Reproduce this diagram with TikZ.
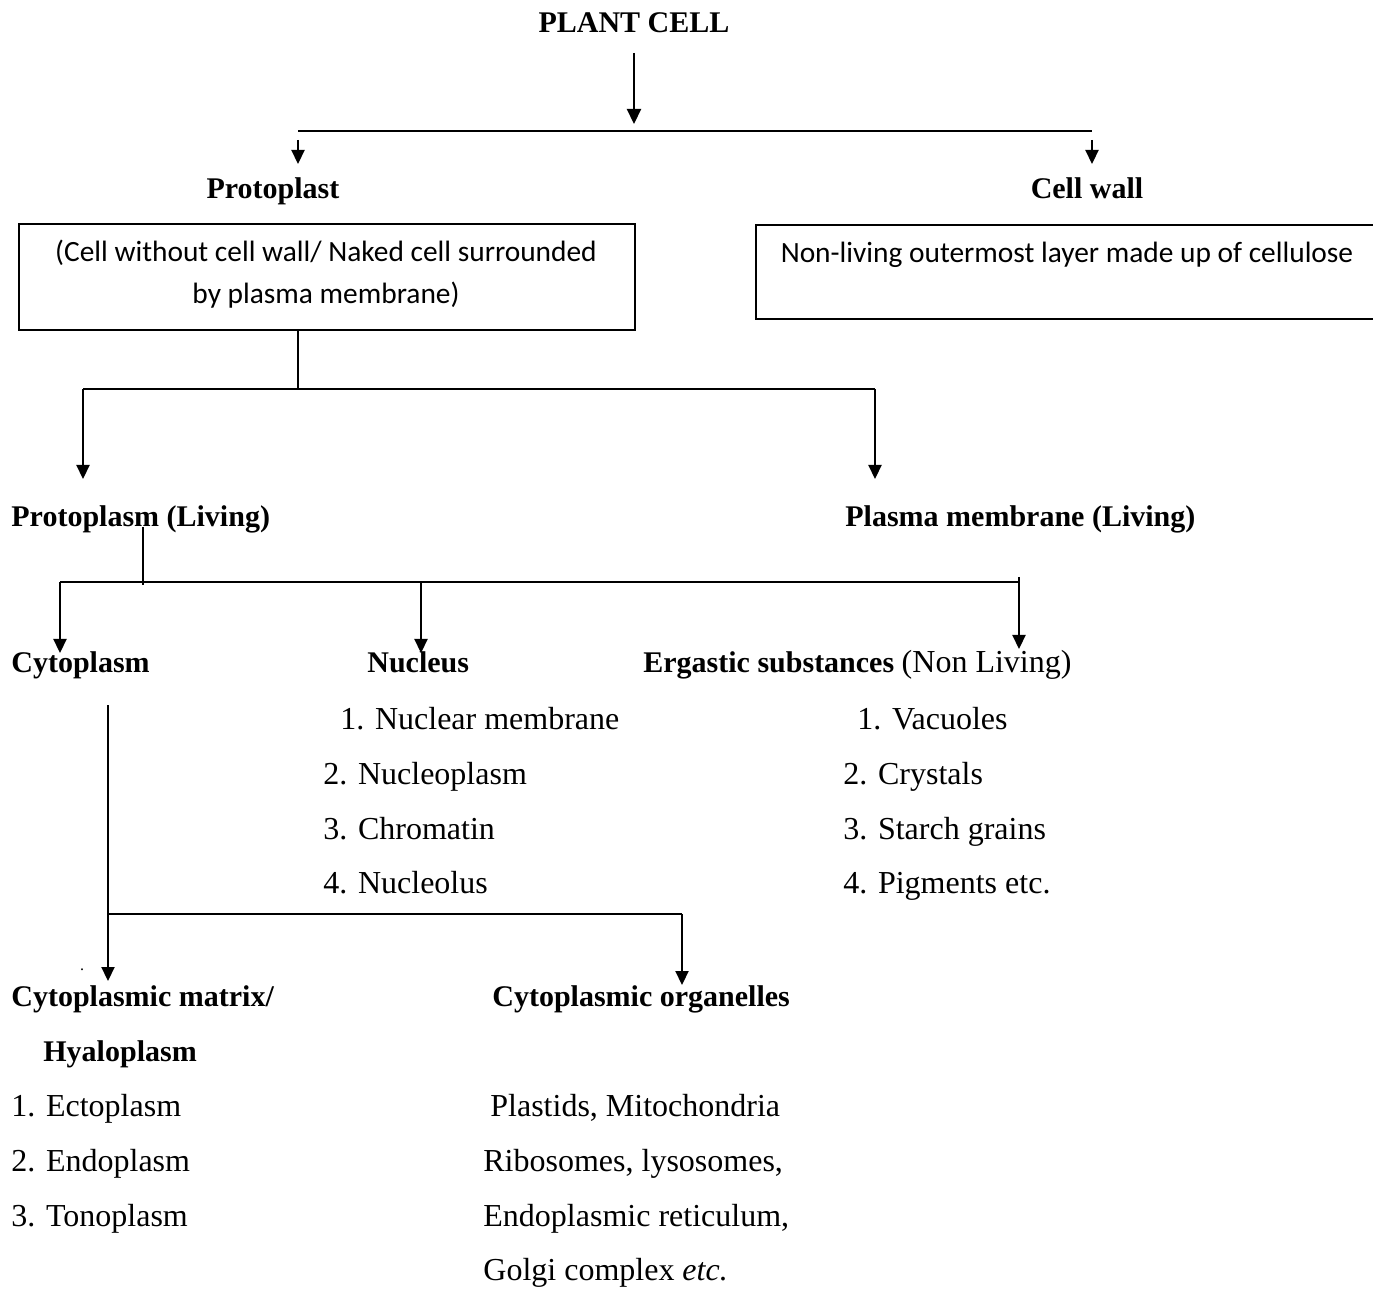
\documentclass[tikz,border=0pt]{standalone}
\usepackage{fontspec}
\setmainfont{Liberation Serif}
\newfontfamily\boxfont{Carlito}
\usetikzlibrary{arrows.meta}
\begin{document}
\begin{tikzpicture}[x=0.5pt,y=-0.5pt,
  conn/.style={line width=1.1pt},
  arr/.style={conn,-{Triangle[width=7pt,length=7.5pt]}},
  sarr/.style={conn,-{Triangle[width=6.5pt,length=7pt]}},
  hd/.style={font=\fontsize{15}{18}\selectfont\bfseries, inner sep=0pt},
  tx/.style={font=\fontsize{16}{19}\selectfont, inner sep=0pt},
  bx/.style={draw, line width=1.1pt, inner sep=0pt},
  bt/.style={font=\boxfont\fontsize{14.7}{21}\selectfont, inner sep=0pt, align=center}]
\useasboundingbox (0,0) rectangle (1373,1289);

% ---------- texts ----------
\node[hd, anchor=base] (pc) at (634,33) {PLANT CELL};
\node[hd, anchor=base] (pp) at (273,199) {Protoplast};
\node[hd, anchor=base] (cw) at (1087,199) {Cell wall};

\node[bx, minimum width=308pt, minimum height=53pt] (box1) at (327,277) {};
\node[bt, anchor=base] (b1a) at (326,262) {(Cell without cell wall/ Naked cell surrounded};
\node[bt, anchor=base] (b1b) at (326,304) {by plasma membrane)};

\node[bx, minimum width=320pt, minimum height=47pt, anchor=north west] (box2) at (755,224) {};
\node[bt, anchor=base] (b2) at (1067,263) {Non-living outermost layer made up of cellulose};

\node[hd, anchor=base west] (pl) at (11,527) {Protoplasm (Living)};
\node[hd, anchor=base west] (pm) at (845,527) {Plasma membrane (Living)};

\node[hd, anchor=base west] (cy) at (11,673) {Cytoplasm};
\node[hd, anchor=base west] (nu) at (367,673) {Nucleus};
\node[tx, anchor=base west] (er) at (643,673) {\fontsize{15}{18}\selectfont\bfseries Ergastic substances \fontsize{16}{19}\selectfont\mdseries(Non Living)};

\node[tx, anchor=base west] (n1) at (340,729) {1. Nuclear membrane};
\node[tx, anchor=base west] (n2) at (323,784) {2. Nucleoplasm};
\node[tx, anchor=base west] (n3) at (323,839) {3. Chromatin};
\node[tx, anchor=base west] (n4) at (323,893) {4. Nucleolus};

\node[tx, anchor=base west] (e1) at (857,729) {1. Vacuoles};
\node[tx, anchor=base west] (e2) at (843,784) {2. Crystals};
\node[tx, anchor=base west] (e3) at (843,839) {3. Starch grains};
\node[tx, anchor=base west] (e4) at (843,893) {4. Pigments etc.};

\node[tx, anchor=base, font=\fontsize{8}{9}\selectfont] (dot) at (82,970) {.};

\node[hd, anchor=base west] (cm) at (11,1006) {Cytoplasmic matrix/};
\node[hd, anchor=base west] (hy) at (43,1061) {Hyaloplasm};
\node[hd, anchor=base west] (co) at (492,1006) {Cytoplasmic organelles};

\node[tx, anchor=base west] (c1) at (11,1116) {1. Ectoplasm};
\node[tx, anchor=base west] (c2) at (11,1171) {2. Endoplasm};
\node[tx, anchor=base west] (c3) at (11,1226) {3. Tonoplasm};

\node[tx, anchor=base west] (o1) at (490,1116) {Plastids, Mitochondria};
\node[tx, anchor=base west] (o2) at (483,1171) {Ribosomes, lysosomes,};
\node[tx, anchor=base west] (o3) at (483,1226) {Endoplasmic reticulum,};
\node[tx, anchor=base west] (o4) at (483,1280) {Golgi complex \textit{etc.}};

% ---------- junction coordinates ----------
\coordinate (pcS) at (634,53);
\coordinate (pcT) at (634,124);
\coordinate (barL) at (298,131);
\coordinate (barR) at (1092,131);
\coordinate (ppS) at (298,140);
\coordinate (ppT) at (298,164);
\coordinate (cwS) at (1092,140);
\coordinate (cwT) at (1092,164);

\coordinate (b1S) at (298,330);
\coordinate (j2) at (298,389);
\coordinate (j2L) at (83,389);
\coordinate (j2R) at (875,389);
\coordinate (plT) at (83,479);
\coordinate (pmT) at (875,479);

\coordinate (plS) at (143,527);
\coordinate (j3) at (143,585);
\coordinate (j3L) at (60,582);
\coordinate (j3M) at (421,582);
\coordinate (j3R) at (1019,582);
\coordinate (j3Rtop) at (1019,577);
\coordinate (cyT) at (60,653);
\coordinate (nuT) at (421,653);
\coordinate (erT) at (1019,649);

\coordinate (cyS) at (108,705);
\coordinate (j4) at (108,914);
\coordinate (j4R) at (682,914);
\coordinate (cmT) at (108,981);
\coordinate (coT) at (682,985);

% ---------- connectors ----------
\draw[arr] (pcS) -- (pcT);
\draw[conn] (barL) -- (barR);
\draw[sarr] (ppS) -- (ppT);
\draw[sarr] (cwS) -- (cwT);

\draw[conn] (b1S) -- (j2);
\draw[conn] (j2L) -- (j2R);
\draw[sarr] (j2L) -- (plT);
\draw[sarr] (j2R) -- (pmT);

\draw[conn] (plS) -- (j3);
\draw[conn] (j3L) -- (j3R);
\draw[sarr] (j3L) -- (cyT);
\draw[sarr] (j3M) -- (nuT);
\draw[sarr] (j3Rtop) -- (erT);

\draw[sarr] (cyS) -- (cmT);
\draw[conn] (j4) -- (j4R);
\draw[sarr] (j4R) -- (coT);
\end{tikzpicture}
\end{document}
